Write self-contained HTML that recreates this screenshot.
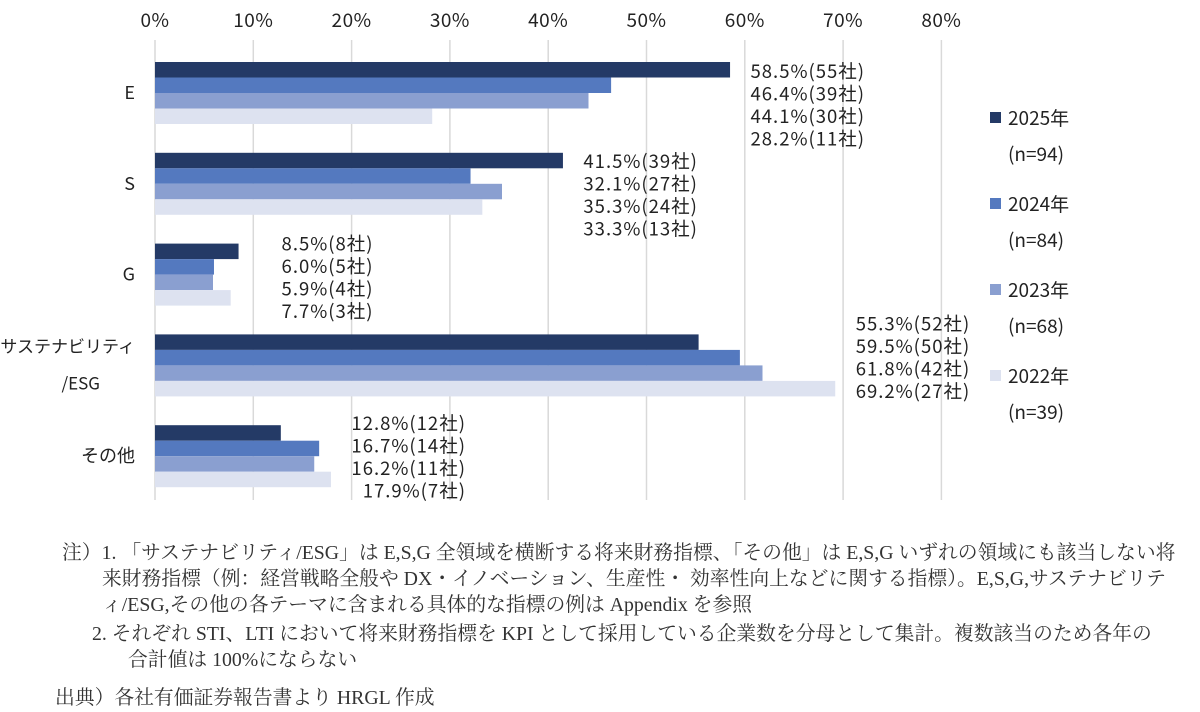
<!DOCTYPE html>
<html><head><meta charset="utf-8"><style>
body{margin:0;background:#fff;width:1200px;height:712px;overflow:hidden;font-family:"Noto Sans CJK JP","Liberation Sans",sans-serif;}
svg text{font-family:"Noto Sans CJK JP","Liberation Sans",sans-serif;fill:#222;}
.note{position:absolute;font-family:"Liberation Serif","Noto Serif CJK SC",serif;font-size:19.8px;color:#333;line-height:26px;white-space:nowrap;}
</style></head><body>
<svg id="chart" width="1200" height="530" style="position:absolute;left:0;top:0"></svg>
<div class="note" style="left:62px;top:540px;">注）1. 「サステナビリティ/ESG」は E,S,G 全領域を横断する将来財務指標、「その他」は E,S,G いずれの領域にも該当しない将<br><span style="padding-left:40px">来財務指標（例：経営戦略全般や DX・イノベーション、生産性・ 効率性向上などに関する指標）。E,S,G,サステナビリテ</span><br><span style="padding-left:40px">ィ/ESG,その他の各テーマに含まれる具体的な指標の例は Appendix を参照</span></div>
<div class="note" style="left:92px;top:621px;">2. それぞれ STI、LTI において将来財務指標を KPI として採用している企業数を分母として集計。複数該当のため各年の<br><span style="padding-left:36px">合計値は 100%にならない</span></div>
<div class="note" style="left:55px;top:685px;">出典）各社有価証券報告書より HRGL 作成</div>
<script>
const categories=["E","S","G","サステナビリティ/ESG","その他"];
const years=["2025年","2024年","2023年","2022年"];
const nLabels=["(n=94)","(n=84)","(n=68)","(n=39)"];
const v2025=[58.5,41.5,8.5,55.3,12.8];
const v2024=[46.4,32.1,6.0,59.5,16.7];
const v2023=[44.1,35.3,5.9,61.8,16.2];
const v2022=[28.2,33.3,7.7,69.2,17.9];
const c2025=["55社","39社","8社","52社","12社"];
const c2024=["39社","27社","5社","50社","14社"];
const c2023=["30社","24社","4社","42社","11社"];
const c2022=["11社","13社","3社","27社","7社"];
const ticks=[0,10,20,30,40,50,60,70,80];
const colors=["#243a66","#5479bf","#8a9fd0","#dde2f0"];
const labelShift=[8,7,-1,-12,-3];
const svg=document.getElementById('chart');const NS="http://www.w3.org/2000/svg";
const x=v=>155+v*9.83;
const gTop=i=>62+i*90.8;
const bh=15.5;
function mk(t,a,p){const e=document.createElementNS(NS,t);for(const k in a)e.setAttribute(k,a[k]);(p||svg).appendChild(e);return e;}
ticks.forEach(t=>{
 const l=mk('line',{x1:x(t),x2:x(t),y1:40,y2:500,stroke:'#d9d9d9','stroke-width':1.5});
 
 
 const tx=mk('text',{x:x(t),y:27,'text-anchor':'middle','font-size':19,'letter-spacing':0.5});tx.textContent=t+'%';
 
 
});
const series=[v2025,v2024,v2023,v2022];const counts=[c2025,c2024,c2023,c2022];
categories.forEach((c,i)=>{
 const top=gTop(i);
 if(i==3){
  const t1=mk('text',{x:135,y:top+18,'text-anchor':'end','font-size':17});t1.textContent='サステナビリティ';
  
  
  const t2=mk('text',{x:100,y:top+55,'text-anchor':'end','font-size':17});t2.textContent='/ESG';
  
  
 }else{
  const t=mk('text',{x:135,y:top+37,'text-anchor':'end','font-size':18});t.textContent=c;
  
  
 }
 const mx=Math.max(...series.map(s=>s[i]));
 series.forEach((s,j)=>{
  const r=mk('rect',{x:x(0),y:top+j*bh,width:x(s[i])-x(0),height:bh,fill:colors[j]});
  
  
  const t=mk('text',{x:x(mx)+135,y:top+labelShift[i]+j*22.5+8,'text-anchor':'end','font-size':18.5,'letter-spacing':1});
  t.textContent=s[i].toFixed(1)+'%('+counts[j][i]+')';
  
  
 });
});
years.forEach((y,j)=>{
 const yy=118+j*86;
 const r=mk('rect',{x:990,y:yy-6,width:11,height:11,fill:colors[j]});
 
 
 const t=mk('text',{x:1008,y:yy+7,'font-size':19});t.textContent=y;
 
 
 const t2=mk('text',{x:1008,y:yy+43,'font-size':19});t2.textContent=nLabels[j];
 
 
});
</script>
</body></html>
